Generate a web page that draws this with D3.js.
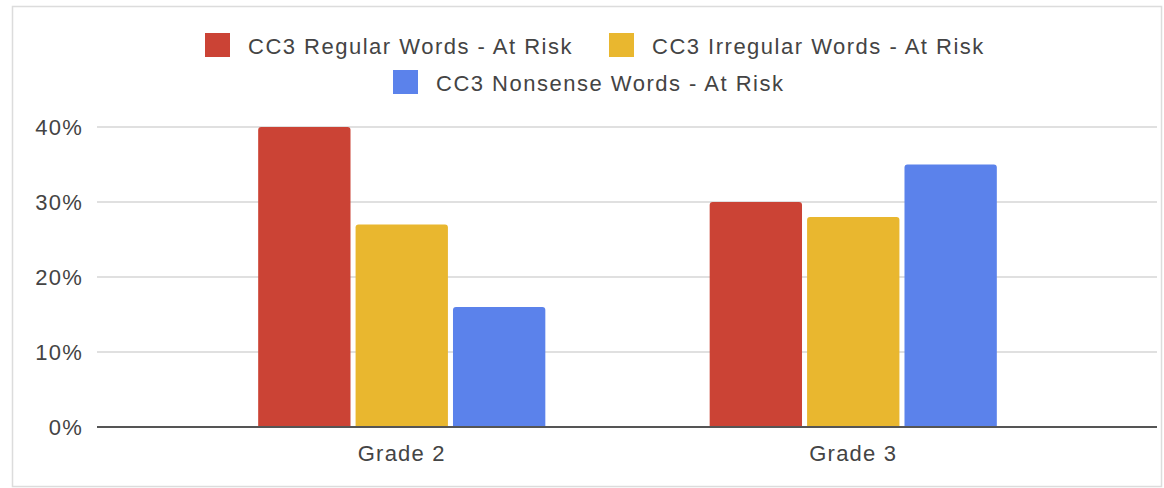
<!DOCTYPE html>
<html>
<head>
<meta charset="utf-8">
<script src="https://cdn.jsdelivr.net/npm/d3@7"></script>
<style>
  body { margin: 0; background: #fff; }
  svg text { font-family: "Liberation Sans", Arial, sans-serif; fill: #444; letter-spacing: 1.2px; }
  .legend text { letter-spacing: 1.5px; }
</style>
</head>
<body>
<div id="chart"></div>
<script>
// chart data
var grades = ["Grade 2", "Grade 3"];
var seriesNames = ["CC3 Regular Words - At Risk", "CC3 Irregular Words - At Risk", "CC3 Nonsense Words - At Risk"];
var regularWords = [40, 30];
var irregularWords = [27, 28];
var nonsenseWords = [16, 35];
var yTicks = [0, 10, 20, 30, 40];
var colors = ["#cb4335", "#e9b72f", "#5b82eb"];

var width = 1164, height = 488;

var svg = d3.select("#chart").append("svg")
    .attr("width", width)
    .attr("height", height);

// frame round the chart
svg.append("rect")
    .attr("x", 12.5).attr("y", 6.5)
    .attr("width", 1149).attr("height", 480)
    .attr("fill", "#fff")
    .attr("stroke", "#dcdcdc")
    .attr("stroke-width", 1.5);

var yScale = d3.scaleLinear().domain([0, 40]).range([427, 127]);

var x0 = d3.scaleBand().domain(grades)
    .range([176, 1079])
    .paddingInner(0.364)
    .paddingOuter(0.182);

var x1 = d3.scaleBand().domain(seriesNames)
    .range([0, x0.bandwidth()])
    .paddingInner(0.052);

// gridlines
svg.append("g")
    .selectAll("line")
    .data(yTicks.filter(function (d) { return d > 0; }))
    .enter().append("line")
    .attr("x1", 97).attr("x2", 1157)
    .attr("y1", function (d) { return yScale(d); })
    .attr("y2", function (d) { return yScale(d); })
    .attr("stroke", "#d6d6d6")
    .attr("stroke-width", 1.5);

// y labels
svg.append("g")
    .selectAll("text")
    .data(yTicks)
    .enter().append("text")
    .attr("x", 83)
    .attr("y", function (d) { return yScale(d); })
    .attr("dy", "0.36em")
    .attr("text-anchor", "end")
    .attr("font-size", 22)
    .text(function (d) { return d + "%"; });

// bars
var table = grades.map(function (g, i) {
    return { grade: g, values: [regularWords[i], irregularWords[i], nonsenseWords[i]] };
});

var groups = svg.append("g")
    .selectAll("g")
    .data(table)
    .enter().append("g")
    .attr("transform", function (d) { return "translate(" + x0(d.grade) + ",0)"; });

groups.selectAll("path")
    .data(function (d) {
        return d.values.map(function (v, j) { return { name: seriesNames[j], value: v, idx: j }; });
    })
    .enter().append("path")
    .attr("fill", function (d) { return colors[d.idx]; })
    .attr("d", function (d) {
        var x = x1(d.name), w = x1.bandwidth(), y = yScale(d.value), b = yScale(0), r = 3;
        return "M" + x + "," + b + "V" + (y + r) + "Q" + x + "," + y + " " + (x + r) + "," + y +
            "H" + (x + w - r) + "Q" + (x + w) + "," + y + " " + (x + w) + "," + (y + r) + "V" + b + "Z";
    });

// baseline
svg.append("line")
    .attr("x1", 97).attr("x2", 1157)
    .attr("y1", yScale(0)).attr("y2", yScale(0))
    .attr("stroke", "#555")
    .attr("stroke-width", 2);

// x labels
svg.append("g")
    .selectAll("text")
    .data(grades)
    .enter().append("text")
    .attr("x", function (d) { return x0(d) + x0.bandwidth() / 2; })
    .attr("y", 461)
    .attr("text-anchor", "middle")
    .attr("font-size", 22)
    .text(function (d) { return d; });

// legend
var legendPos = [
    { x: 205, y: 33 },
    { x: 609, y: 33 },
    { x: 393, y: 70 }
];

var legend = svg.append("g")
    .attr("class", "legend")
    .selectAll("g")
    .data(seriesNames)
    .enter().append("g")
    .attr("transform", function (d, i) { return "translate(" + legendPos[i].x + "," + legendPos[i].y + ")"; });

legend.append("rect")
    .attr("width", 25).attr("height", 24)
    .attr("fill", function (d, i) { return colors[i]; });

legend.append("text")
    .attr("x", 43)
    .attr("y", 21)
    .attr("font-size", 22)
    .text(function (d) { return d; });
</script>
</body>
</html>
